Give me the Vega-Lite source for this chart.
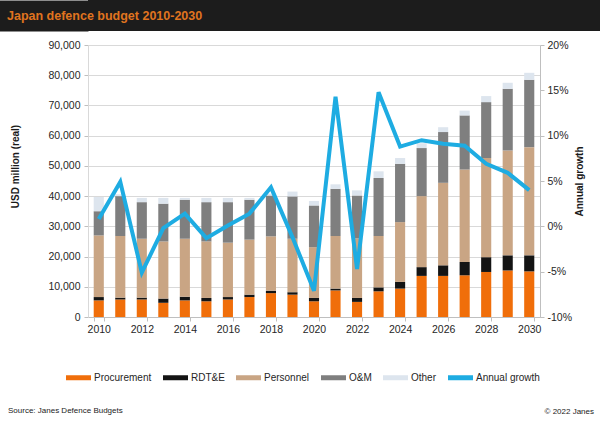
{
  "$schema": "https://vega.github.io/schema/vega-lite/v6.json",
  "background": "white",
  "padding": 0,
  "spacing": 9,
  "datasets": {
    "budget": [
      {"year": 2010, "category": "Procurement", "value": 5500}, {"year": 2010, "category": "RDT&E", "value": 1100}, {"year": 2010, "category": "Personnel", "value": 20400}, {"year": 2010, "category": "O&M", "value": 8000}, {"year": 2010, "category": "Other", "value": 4700},
      {"year": 2011, "category": "Procurement", "value": 5800}, {"year": 2011, "category": "RDT&E", "value": 600}, {"year": 2011, "category": "Personnel", "value": 20400}, {"year": 2011, "category": "O&M", "value": 13200}, {"year": 2011, "category": "Other", "value": 600},
      {"year": 2012, "category": "Procurement", "value": 5800}, {"year": 2012, "category": "RDT&E", "value": 600}, {"year": 2012, "category": "Personnel", "value": 19500}, {"year": 2012, "category": "O&M", "value": 12100}, {"year": 2012, "category": "Other", "value": 1400},
      {"year": 2013, "category": "Procurement", "value": 4700}, {"year": 2013, "category": "RDT&E", "value": 1400}, {"year": 2013, "category": "Personnel", "value": 18900}, {"year": 2013, "category": "O&M", "value": 12500}, {"year": 2013, "category": "Other", "value": 1900},
      {"year": 2014, "category": "Procurement", "value": 5500}, {"year": 2014, "category": "RDT&E", "value": 1200}, {"year": 2014, "category": "Personnel", "value": 19200}, {"year": 2014, "category": "O&M", "value": 12900}, {"year": 2014, "category": "Other", "value": 600},
      {"year": 2015, "category": "Procurement", "value": 5200}, {"year": 2015, "category": "RDT&E", "value": 1100}, {"year": 2015, "category": "Personnel", "value": 18700}, {"year": 2015, "category": "O&M", "value": 13000}, {"year": 2015, "category": "Other", "value": 1400},
      {"year": 2016, "category": "Procurement", "value": 5800}, {"year": 2016, "category": "RDT&E", "value": 800}, {"year": 2016, "category": "Personnel", "value": 18000}, {"year": 2016, "category": "O&M", "value": 13400}, {"year": 2016, "category": "Other", "value": 1400},
      {"year": 2017, "category": "Procurement", "value": 6600}, {"year": 2017, "category": "RDT&E", "value": 800}, {"year": 2017, "category": "Personnel", "value": 18200}, {"year": 2017, "category": "O&M", "value": 13200}, {"year": 2017, "category": "Other", "value": 600},
      {"year": 2018, "category": "Procurement", "value": 7900}, {"year": 2018, "category": "RDT&E", "value": 800}, {"year": 2018, "category": "Personnel", "value": 18000}, {"year": 2018, "category": "O&M", "value": 13500}, {"year": 2018, "category": "Other", "value": 600},
      {"year": 2019, "category": "Procurement", "value": 7400}, {"year": 2019, "category": "RDT&E", "value": 800}, {"year": 2019, "category": "Personnel", "value": 17700}, {"year": 2019, "category": "O&M", "value": 14000}, {"year": 2019, "category": "Other", "value": 1600},
      {"year": 2020, "category": "Procurement", "value": 5200}, {"year": 2020, "category": "RDT&E", "value": 1100}, {"year": 2020, "category": "Personnel", "value": 16800}, {"year": 2020, "category": "O&M", "value": 13800}, {"year": 2020, "category": "Other", "value": 1500},
      {"year": 2021, "category": "Procurement", "value": 8800}, {"year": 2021, "category": "RDT&E", "value": 600}, {"year": 2021, "category": "Personnel", "value": 17400}, {"year": 2021, "category": "O&M", "value": 15600}, {"year": 2021, "category": "Other", "value": 1500},
      {"year": 2022, "category": "Procurement", "value": 5000}, {"year": 2022, "category": "RDT&E", "value": 1300}, {"year": 2022, "category": "Personnel", "value": 19700}, {"year": 2022, "category": "O&M", "value": 14200}, {"year": 2022, "category": "Other", "value": 1700},
      {"year": 2023, "category": "Procurement", "value": 8500}, {"year": 2023, "category": "RDT&E", "value": 1300}, {"year": 2023, "category": "Personnel", "value": 17000}, {"year": 2023, "category": "O&M", "value": 19200}, {"year": 2023, "category": "Other", "value": 2200},
      {"year": 2024, "category": "Procurement", "value": 9400}, {"year": 2024, "category": "RDT&E", "value": 2200}, {"year": 2024, "category": "Personnel", "value": 19800}, {"year": 2024, "category": "O&M", "value": 19300}, {"year": 2024, "category": "Other", "value": 1900},
      {"year": 2025, "category": "Procurement", "value": 13600}, {"year": 2025, "category": "RDT&E", "value": 2900}, {"year": 2025, "category": "Personnel", "value": 23500}, {"year": 2025, "category": "O&M", "value": 15900}, {"year": 2025, "category": "Other", "value": 1600},
      {"year": 2026, "category": "Procurement", "value": 13600}, {"year": 2026, "category": "RDT&E", "value": 3500}, {"year": 2026, "category": "Personnel", "value": 27300}, {"year": 2026, "category": "O&M", "value": 16800}, {"year": 2026, "category": "Other", "value": 1600},
      {"year": 2027, "category": "Procurement", "value": 13800}, {"year": 2027, "category": "RDT&E", "value": 4400}, {"year": 2027, "category": "Personnel", "value": 30600}, {"year": 2027, "category": "O&M", "value": 17900}, {"year": 2027, "category": "Other", "value": 1600},
      {"year": 2028, "category": "Procurement", "value": 14900}, {"year": 2028, "category": "RDT&E", "value": 4900}, {"year": 2028, "category": "Personnel", "value": 32800}, {"year": 2028, "category": "O&M", "value": 18500}, {"year": 2028, "category": "Other", "value": 2000},
      {"year": 2029, "category": "Procurement", "value": 15400}, {"year": 2029, "category": "RDT&E", "value": 5000}, {"year": 2029, "category": "Personnel", "value": 34700}, {"year": 2029, "category": "O&M", "value": 20400}, {"year": 2029, "category": "Other", "value": 2000},
      {"year": 2030, "category": "Procurement", "value": 15100}, {"year": 2030, "category": "RDT&E", "value": 5300}, {"year": 2030, "category": "Personnel", "value": 35800}, {"year": 2030, "category": "O&M", "value": 22300}, {"year": 2030, "category": "Other", "value": 2300}
    ],
    "growth": [
      {"year": 2010, "growth": 0.8}, {"year": 2011, "growth": 4.9}, {"year": 2012, "growth": -5.1},
      {"year": 2013, "growth": -0.2}, {"year": 2014, "growth": 1.4}, {"year": 2015, "growth": -1.3},
      {"year": 2016, "growth": 0.1}, {"year": 2017, "growth": 1.4}, {"year": 2018, "growth": 4.3},
      {"year": 2019, "growth": -1.2}, {"year": 2020, "growth": -7.1}, {"year": 2021, "growth": 14.3},
      {"year": 2022, "growth": -4.7}, {"year": 2023, "growth": 14.8}, {"year": 2024, "growth": 8.8},
      {"year": 2025, "growth": 9.5}, {"year": 2026, "growth": 9.1}, {"year": 2027, "growth": 8.9},
      {"year": 2028, "growth": 6.9}, {"year": 2029, "growth": 5.9}, {"year": 2030, "growth": 4.0}
    ]
  },
  "title": {
    "text": "© 2022 Janes",
    "orient": "bottom",
    "anchor": "end",
    "frame": "bounds",
    "offset": -7,
    "dx": -6,
    "fontSize": 8,
    "fontWeight": "normal",
    "color": "#222222"
  },
  "vconcat": [
    {
      "width": 512,
      "height": 31,
      "view": {"fill": "#1c1c1c", "stroke": null},
      "title": {
        "text": "Japan defence budget 2010-2030",
        "orient": "top",
        "anchor": "start",
        "frame": "group",
        "offset": -32,
        "dx": -81,
        "baseline": "alphabetic",
        "color": "#e0741f",
        "fontSize": 12.5,
        "fontWeight": "bold"
      },
      "data": {"values": [{"t": "", "v": 0}]},
      "mark": {"type": "text"},
      "encoding": {
        "text": {"field": "t"},
        "y": {
          "field": "v",
          "type": "quantitative",
          "axis": {
            "title": null,
            "labels": false,
            "ticks": false,
            "grid": false,
            "domain": true,
            "domainColor": "#1c1c1c",
            "domainWidth": 176,
            "domainCap": "butt",
            "offset": 88
          }
        }
      }
    },
    {
      "width": 452,
      "height": 272,
      "view": {"stroke": null},
      "title": {
        "text": "Source: Janes Defence Budgets",
        "orient": "bottom",
        "anchor": "start",
        "frame": "bounds",
        "offset": 72,
        "dx": -2,
        "fontSize": 8,
        "fontWeight": "normal",
        "color": "#222222"
      },
      "encoding": {
        "x": {
          "field": "year",
          "type": "ordinal",
          "title": null,
          "scale": {"paddingInner": 0.53, "paddingOuter": 0.265},
          "axis": {
            "values": [2010, 2012, 2014, 2016, 2018, 2020, 2022, 2024, 2026, 2028, 2030],
            "labelAngle": 0,
            "tickBand": "extent",
            "domainColor": "#bfbfbf",
            "tickColor": "#bfbfbf",
            "tickSize": 4,
            "labelPadding": 3,
            "labelFontSize": 10.5,
            "labelColor": "#262626"
          }
        }
      },
      "layer": [
        {
          "data": {"name": "budget"},
          "transform": [
            {"calculate": "indexof(['Procurement', 'RDT&E', 'Personnel', 'O&M', 'Other'], datum.category)", "as": "ord"}
          ],
          "mark": {"type": "bar"},
          "encoding": {
            "y": {
              "aggregate": "sum",
              "field": "value",
              "type": "quantitative",
              "title": "USD million (real)",
              "scale": {"domain": [0, 90000]},
              "axis": {
                "values": [0, 10000, 20000, 30000, 40000, 50000, 60000, 70000, 80000, 90000],
                "format": ",.0f",
                "grid": true,
                "gridColor": "#d9d9d9",
                "domainColor": "#d9d9d9",
                "tickColor": "#bfbfbf",
                "tickSize": 4,
                "labelPadding": 4,
                "labelFontSize": 10.5,
                "labelColor": "#262626",
                "titleFontSize": 10,
                "titleFontWeight": "bold",
                "titleColor": "#1a1a1a",
                "titleBaseline": "middle",
                "titleX": -73,
                "titleY": 121
              }
            },
            "color": {
              "field": "category",
              "type": "nominal",
              "scale": {
                "domain": ["Procurement", "RDT&E", "Personnel", "O&M", "Other", "Annual growth"],
                "range": ["#f06e0a", "#141414", "#c9a584", "#7f7f7f", "#dde5ee", "#1eace2"]
              },
              "legend": {
                "title": null,
                "orient": "none",
                "direction": "horizontal",
                "columns": 6,
                "legendX": -22,
                "legendY": 365,
                "symbolType": "M-1,-0.2H1V0.2H-1Z",
                "symbolSize": 625,
                "symbolStrokeWidth": 0,
                "labelOffset": 3,
                "columnPadding": 11,
                "labelFontSize": 10,
                "labelColor": "#262626"
              }
            },
            "order": {"field": "ord", "type": "quantitative"}
          }
        },
        {
          "data": {"name": "growth"},
          "mark": {"type": "line", "strokeWidth": 4},
          "encoding": {
            "y": {
              "field": "growth",
              "type": "quantitative",
              "scale": {"domain": [-10, 20]},
              "axis": {
                "orient": "right",
                "title": "Annual growth",
                "values": [-10, -5, 0, 5, 10, 15, 20],
                "labelExpr": "datum.value + '%'",
                "grid": false,
                "domainColor": "#bfbfbf",
                "tickColor": "#bfbfbf",
                "tickSize": 4,
                "labelPadding": 3,
                "labelFontSize": 10.5,
                "labelColor": "#262626",
                "titleFontSize": 10,
                "titleFontWeight": "bold",
                "titleColor": "#1a1a1a",
                "titleAngle": 270,
                "titleBaseline": "middle",
                "titleX": 39,
                "titleY": 136
              }
            },
            "color": {"datum": "Annual growth"}
          }
        }
      ],
      "resolve": {"scale": {"y": "independent"}}
    }
  ],
  "config": {
    "font": "Liberation Sans",
    "view": {"stroke": null}
  }
}
